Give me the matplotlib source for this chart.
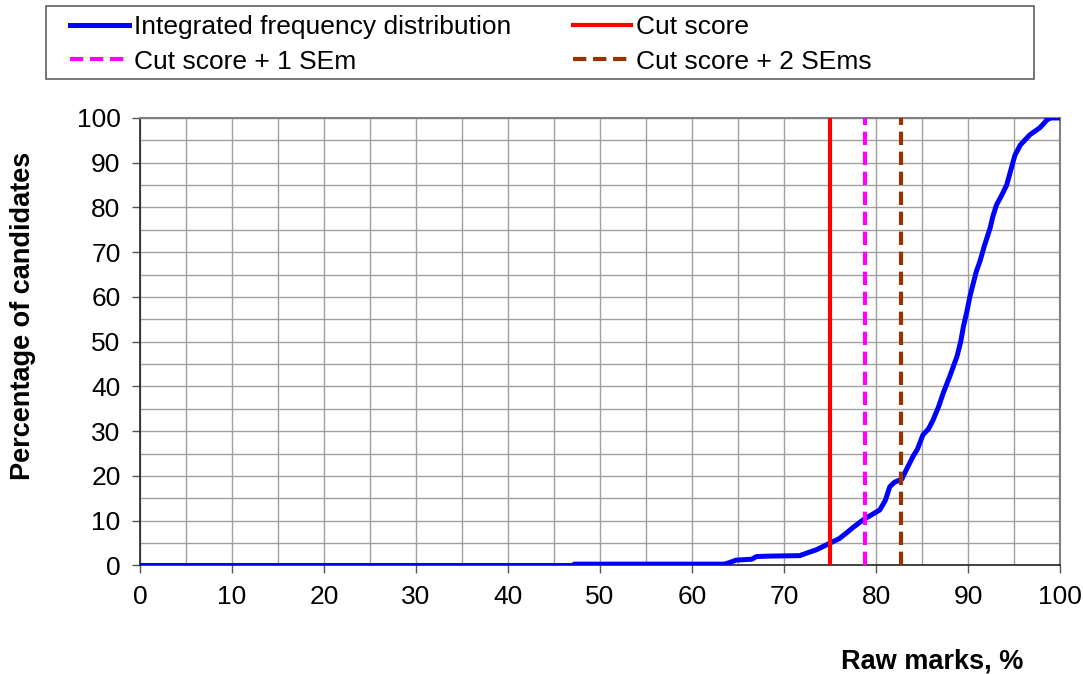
import numpy as np
import matplotlib.pyplot as plt
from matplotlib.patches import Rectangle

# cumulative distribution (raw mark %, % of candidates)
marks = [0, 47, 47.2, 63.5, 64, 64.8, 66.5, 67, 68.5, 71.7, 72.5, 73.5, 75, 76,
         76.8, 77.5, 78.6, 79.5, 80.4, 81, 81.5, 82, 82.8, 83.2, 84, 84.5, 85.1,
         85.7, 86.2, 86.8, 87.3, 88, 88.8, 89.2, 89.5, 89.9, 90.2, 90.5, 90.9,
         91.3, 91.8, 92.4, 92.7, 93.1, 93.6, 94.2, 94.6, 95.1, 95.7, 96.7, 97.8,
         98.6, 99, 100]
pct = [0, 0, 0.3, 0.3, 0.6, 1.2, 1.4, 2.0, 2.1, 2.2, 2.8, 3.5, 5.0, 6.0,
       7.3, 8.5, 10.2, 11.3, 12.4, 14.5, 17.6, 18.6, 19.3, 21, 24.3, 26, 29.2,
       30.5, 32.5, 35.5, 38.5, 42.2, 46.7, 50, 53.4, 57, 60.1, 62.5, 65.7,
       68, 71.6, 75.4, 78, 80.6, 82.5, 85.0, 88, 91.7, 94.0, 96.2, 97.8,
       99.6, 100, 100]

cut_score = 75
cut_1sem = 78.85
cut_2sem = 82.7

plt.rcParams['font.family'] = ['Liberation Sans', 'DejaVu Sans']

fig = plt.figure(figsize=(10.83, 6.74), dpi=100)
ax = fig.add_axes([0.1293, 0.161, 0.8495, 0.664])

l1, = ax.plot(marks, pct, color='#0000ff', lw=3.6, solid_joinstyle='round',
              label='Integrated frequency distribution', zorder=3)
l2 = ax.axvline(cut_score, color='#ff0000', lw=3.0, label='Cut score', zorder=4)
l3 = ax.axvline(cut_1sem, color='#ff00ff', lw=3.0, ls=(0, (3.2, 1.6)),
                label='Cut score + 1 SEm', zorder=4)
l4 = ax.axvline(cut_2sem, color='#993300', lw=3.0, ls=(0, (3.2, 1.6)),
                label='Cut score + 2 SEms', zorder=4)

ax.set_xlim(0, 100)
ax.set_ylim(0, 100)
ax.set_xticks(np.arange(0, 101, 10))
ax.set_yticks(np.arange(0, 101, 10))
ax.set_xticks(np.arange(0, 101, 5), minor=True)
ax.set_yticks(np.arange(0, 101, 5), minor=True)
ax.tick_params(which='minor', length=0)
ax.tick_params(which='major', direction='out', length=6, width=1,
               color='#555555', labelsize=19)
ax.tick_params(axis='x', pad=8)
ax.tick_params(axis='y', pad=8)
ax.grid(which='both', color='#a0a0a0', lw=1)
ax.set_axisbelow(True)
for s in ['left', 'bottom']:
    ax.spines[s].set_color('#222222')
    ax.spines[s].set_linewidth(1.2)
for s in ['top', 'right']:
    ax.spines[s].set_color('#808080')
    ax.spines[s].set_linewidth(1.5)

fig.text(0.021, 0.531, 'Percentage of candidates', rotation=90, ha='center',
         va='center', fontsize=19.5, fontweight='bold')
fig.text(0.945, 0.018, 'Raw marks, %', ha='right', va='center',
         fontsize=19.5, fontweight='bold')

# legend frame and entries
fig.patches.append(Rectangle((46 / 1083, 1 - 79 / 674), (1034 - 46) / 1083,
                             73 / 674, transform=fig.transFigure,
                             fill=False, ec='#606060', lw=1.2))
fig.legend(handles=[l1, l3, l2, l4], ncol=2, loc='upper left',
           bbox_to_anchor=(0.048, 1.0045), frameon=False, fontsize=19,
           borderpad=0.2, handlelength=2.2, handletextpad=0.2,
           columnspacing=2.35, labelspacing=0.39)

fig.savefig('out.png', dpi=100)
